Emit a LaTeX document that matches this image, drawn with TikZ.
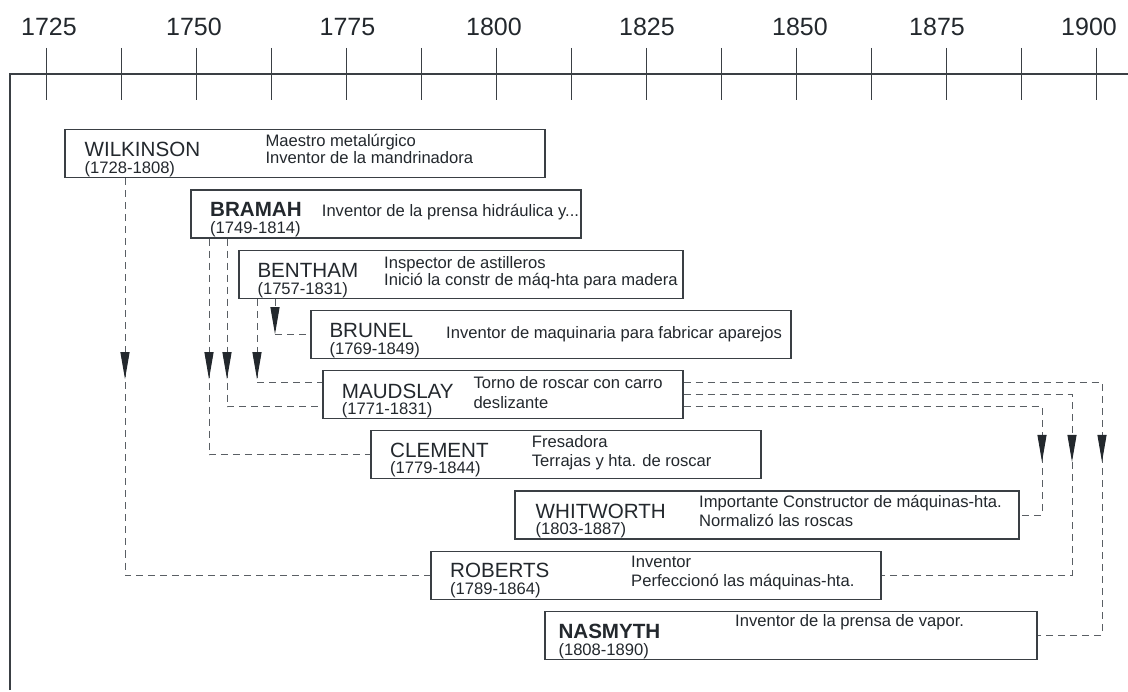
\documentclass[tikz,border=0pt]{standalone}
\usepackage{fontspec}
\setmainfont{Liberation Sans}
\usetikzlibrary{arrows.meta,calc,decorations.markings}
\definecolor{tinta}{HTML}{23282D}
\definecolor{borde}{HTML}{3A3F44}
\definecolor{guia}{HTML}{5A5F64}

\tikzset{
  caja/.style={draw=borde, fill=white, line width=1.2pt, rectangle,
    minimum height=48pt, inner sep=0pt, anchor=north west},
  nombre/.style={font=\fontsize{20.6}{24}\selectfont, text=tinta,
    inner sep=0pt, anchor=base west},
  nombreb/.style={nombre, font=\fontsize{20.6}{24}\selectfont\bfseries},
  fechas/.style={font=\fontsize{16.6}{20}\selectfont, text=tinta,
    inner sep=0pt, anchor=base west},
  texto/.style={font=\fontsize{16.6}{20}\selectfont, text=tinta,
    inner sep=0pt, anchor=base west},
  anio/.style={font=\fontsize{25}{28}\selectfont, text=tinta,
    inner sep=0pt, anchor=base},
  eje/.style={draw=borde, line width=1.4pt},
  marca/.style={draw=borde, line width=1pt},
  conector/.style={draw=guia, line width=1pt, dash pattern=on 7pt off 5pt},
  flecha/.style={postaction={decorate, decoration={markings,
    mark=at position #1 with {\arrow{Triangle[width=9pt,length=27pt,color=tinta]}}}}},
}

% box of one person: id, row, birth year, death year
\newcommand\personbox[4]{%
  \pgfmathsetmacro\cx{46.4+(#3-1725)*6}%
  \pgfmathsetmacro\cy{129.3+60.2*#2}%
  \pgfmathsetmacro\cw{(#4-#3)*6}%
  \node[caja, minimum width=\cw pt] (#1) at (\cx,\cy) {};%
}

\begin{document}
\begin{tikzpicture}[x=1pt,y=-1pt]
\useasboundingbox (0,0) rectangle (1128,692);

% time axis
\draw[eje] (10,690) -- (10,74) -- (1128,74);
\foreach \k in {0,...,14}
  \draw[marca] ({46.4+75*\k},48) -- ({46.4+75*\k},100);
\foreach \a/\px in {1725/49,1750/194,1775/347.5,1800/494,1825/647,1850/800,1875/937,1900/1089}
  \node[anio] (lab\a) at (\px,35.7) {\a};

% people
\personbox{wil}{0}{1728}{1808}
\node[nombre] (wil-n) at ($(wil.north west)+(20,27.5)$) {WILKINSON};
\node[fechas] (wil-f) at ($(wil.north west)+(20,44.5)$) {(1728-1808)};
\node[texto] (wil-d1) at ($(wil.north west)+(201,17.4)$) {Maestro metalúrgico};
\node[texto] (wil-d2) at ($(wil.north west)+(201,34)$) {Inventor de la mandrinadora};

\personbox{bra}{1}{1749}{1814}
\node[nombreb] (bra-n) at ($(bra.north west)+(19.6,27.5)$) {BRAMAH};
\node[fechas] (bra-f) at ($(bra.north west)+(19.6,44.5)$) {(1749-1814)};
\node[texto] (bra-d1) at ($(bra.north west)+(131.3,27.5)$) {Inventor de la prensa hidráulica y...};

\personbox{ben}{2}{1757}{1831}
\node[nombre] (ben-n) at ($(ben.north west)+(18.9,28)$) {BENTHAM};
\node[fechas] (ben-f) at ($(ben.north west)+(18.9,44.5)$) {(1757-1831)};
\node[texto] (ben-d1) at ($(ben.north west)+(145.6,19)$) {Inspector de astilleros};
\node[texto] (ben-d2) at ($(ben.north west)+(145.6,35.7)$) {Inició la constr de máq-hta para madera};

\personbox{bru}{3}{1769}{1849}
\node[nombre] (bru-n) at ($(bru.north west)+(18.9,27.5)$) {BRUNEL};
\node[fechas] (bru-f) at ($(bru.north west)+(18.9,44.5)$) {(1769-1849)};
\node[texto] (bru-d1) at ($(bru.north west)+(135.6,28.4)$) {Inventor de maquinaria para fabricar aparejos};

\personbox{mau}{4}{1771}{1831}
\node[nombre] (mau-n) at ($(mau.north west)+(19.3,28.3)$) {MAUDSLAY};
\node[fechas] (mau-f) at ($(mau.north west)+(19.3,44.8)$) {(1771-1831)};
\node[texto] (mau-d1) at ($(mau.north west)+(150.9,18.3)$) {Torno de roscar con carro};
\node[texto] (mau-d2) at ($(mau.north west)+(150.9,38.3)$) {deslizante};

\personbox{cle}{5}{1779}{1844}
\node[nombre] (cle-n) at ($(cle.north west)+(19.6,27.3)$) {CLEMENT};
\node[fechas] (cle-f) at ($(cle.north west)+(19.6,43.5)$) {(1779-1844)};
\node[texto] (cle-d1) at ($(cle.north west)+(161.3,17.3)$) {Fresadora};
\node[texto] (cle-d2) at ($(cle.north west)+(161.3,36.7)$) {Terrajas y hta. de roscar};

\personbox{whi}{6}{1803}{1887}
\node[nombre] (whi-n) at ($(whi.north west)+(21.1,27.6)$) {WHITWORTH};
\node[fechas] (whi-f) at ($(whi.north west)+(21.1,44.5)$) {(1803-1887)};
\node[texto] (whi-d1) at ($(whi.north west)+(184.6,17.2)$) {Importante Constructor de máquinas-hta.};
\node[texto] (whi-d2) at ($(whi.north west)+(184.6,36.5)$) {Normalizó las roscas};

\personbox{rob}{7}{1789}{1864}
\node[nombre] (rob-n) at ($(rob.north west)+(19.6,26.6)$) {ROBERTS};
\node[fechas] (rob-f) at ($(rob.north west)+(19.6,44)$) {(1789-1864)};
\node[texto] (rob-d1) at ($(rob.north west)+(200.6,16.6)$) {Inventor};
\node[texto] (rob-d2) at ($(rob.north west)+(200.6,36)$) {Perfeccionó las máquinas-hta.};

\personbox{nas}{8}{1808}{1890}
\node[nombreb] (nas-n) at ($(nas.north west)+(13.9,27.6)$) {NASMYTH};
\node[fechas] (nas-f) at ($(nas.north west)+(13.9,44.3)$) {(1808-1890)};
\node[texto] (nas-d1) at ($(nas.north west)+(190.6,15.3)$) {Inventor de la prensa de vapor.};

% lines of influence
\draw[conector, flecha=200.7pt] (125,0 |- wil.south) |- (rob.west);
\draw[conector, flecha=140.5pt] (209,0 |- bra.south) |- (cle.west);
\draw[conector, flecha=140.5pt] (227,0 |- bra.south) |- ($(mau.west)+(0,12)$);
\draw[conector, flecha=80.3pt]  (257,0 |- ben.south) |- ($(mau.west)+(0,-12)$);
\draw[conector, flecha=35.3pt]  (275,0 |- ben.south) |- (bru.west);
\draw[conector, flecha=413.6pt] ($(mau.east)+(0,12)$) -| (1042,0 |- whi.east) -- (whi.east);
\draw[conector, flecha=455.6pt] (mau.east) -| (1072,0 |- rob.east) -- (rob.east);
\draw[conector, flecha=497.6pt] ($(mau.east)+(0,-12)$) -| (1102,0 |- nas.east) -- (nas.east);
\end{tikzpicture}
\end{document}
